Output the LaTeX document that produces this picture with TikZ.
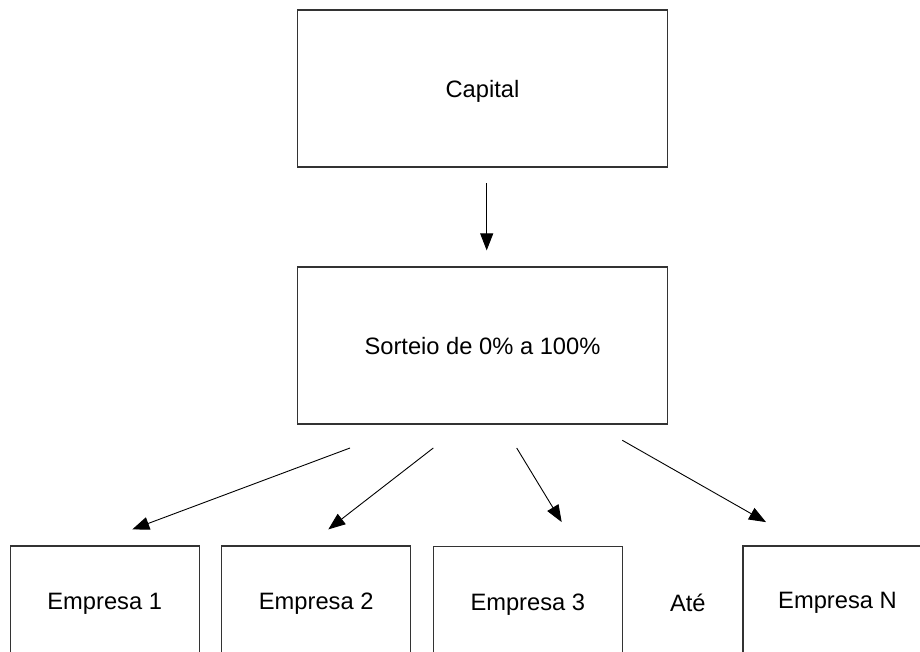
\documentclass[tikz,border=0pt]{standalone}
\usepackage{fontspec}
\setmainfont{Liberation Sans}
\usetikzlibrary{arrows.meta}
\begin{document}
\begin{tikzpicture}[x=1pt,y=-1pt,
  box/.style={draw=black!80, line width=1.2pt, fill=white, inner sep=0pt,
    minimum width=370pt, minimum height=157pt, text depth=0pt,
    font=\fontsize{23.7}{28}\selectfont},
  firm/.style={box, minimum width=189pt, minimum height=110pt},
  label/.style={inner sep=0pt, text depth=0pt, font=\fontsize{23.7}{28}\selectfont},
  link/.style={-{Triangle[length=17pt,width=13pt]}, line width=0.9pt, black}]
\clip (0,0) rectangle (920,652);
\fill[white] (0,0) rectangle (920,652);

% main stages
\node[box] (cap) at (482.5,88.5) {Capital};
\node[box] (sort) at (482.5,345.5) {Sorteio de 0\% a 100\%};

% companies (boxes run past the lower edge)
\node[firm] (e1) at (104.7,601) {Empresa 1};
\node[firm] (e2) at (316.2,601) {Empresa 2};
\node[firm, minimum height=112pt] (e3) at (527.8,602.7) {Empresa 3};
\node[label] (ate) at (687.8,603) {Até};
\node[firm, minimum height=108pt] (eN) at (837.5,600) {Empresa N};

% connectors
\draw[link] ([xshift=4.2pt,yshift=-15.6pt]cap.south) -- ([xshift=4.2pt,yshift=16pt]sort.north);
\draw[link] ([xshift=-132.5pt,yshift=-23.4pt]sort.south) -- ([xshift=27.6pt,yshift=16pt]e1.north);
\draw[link] ([xshift=-49.2pt,yshift=-23.4pt]sort.south) -- ([xshift=12.1pt,yshift=16pt]e2.north);
\draw[link] ([xshift=34.2pt,yshift=-23.4pt]sort.south) -- ([xshift=33.9pt,yshift=24pt]e3.north);
\draw[link] ([xshift=139.8pt,yshift=-15.7pt]sort.south) -- ([xshift=-71.5pt,yshift=23.3pt]eN.north);
\end{tikzpicture}
\end{document}
